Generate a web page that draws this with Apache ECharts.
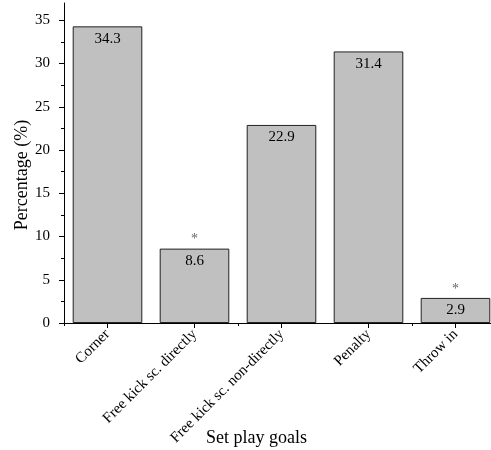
<!DOCTYPE html>
<html><head><meta charset="utf-8">
<script src="https://cdn.jsdelivr.net/npm/echarts@6/dist/echarts.min.js"></script>
<style>html,body{margin:0;padding:0;background:#fff}#c{width:491px;height:450px}</style>
</head><body><div id="c"></div>
<script>
const categories = ['Corner', 'Free kick sc. directly', 'Free kick sc. non-directly', 'Penalty', 'Throw in'];
const values = [34.3, 8.6, 22.9, 31.4, 2.9];
const significant = [false, true, false, false, true];
const yMajorTicks = [0, 5, 10, 15, 20, 25, 30, 35];
const yMinorTicks = [2.5, 7.5, 12.5, 17.5, 22.5, 27.5, 32.5];

const FONT = 'Liberation Serif';
const chart = echarts.init(document.getElementById('c'), null, {renderer: 'canvas'});
chart.setOption({
  animation: false,
  grid: {left: 64, top: 3, bottom: 127, width: 435, containLabel: false, outerBoundsMode: 'none'},
  xAxis: [{
    type: 'category', data: categories, position: 'bottom',
    name: 'Set play goals', nameLocation: 'middle', nameGap: 106, nameMoveOverlap: false,
    nameTextStyle: {fontFamily: FONT, fontSize: 18, color: '#000', padding: [0, 50, 0, 0]},
    axisLine: {show: true, lineStyle: {color: '#000', width: 1}},
    axisTick: {show: true, alignWithLabel: true, length: 5, lineStyle: {color: '#000'}},
    axisLabel: {rotate: 45, fontFamily: FONT, fontSize: 15, color: '#000', margin: 9, interval: 0}
  }, {
    type: 'category', data: categories, position: 'bottom',
    axisLine: {show: false}, axisLabel: {show: false},
    axisTick: {show: true, alignWithLabel: false, length: 3, lineStyle: {color: '#000'}}
  }],
  yAxis: [{
    type: 'value', min: 0, max: 37, interval: 5,
    name: 'Percentage (%)', nameLocation: 'middle', nameGap: 33, nameMoveOverlap: false,
    nameTextStyle: {fontFamily: FONT, fontSize: 18, color: '#000', padding: [0, 24, 0, 0]},
    axisLine: {show: true, lineStyle: {color: '#000', width: 1}},
    axisTick: {show: true, length: 5, customValues: yMajorTicks, lineStyle: {color: '#000'}},
    axisLabel: {customValues: yMajorTicks, fontFamily: FONT, fontSize: 15, color: '#000', margin: 14},
    splitLine: {show: false}
  }, {
    type: 'value', min: 0, max: 37, position: 'left',
    axisLine: {show: false}, axisLabel: {show: false}, splitLine: {show: false},
    axisTick: {show: true, length: 3, customValues: yMinorTicks, lineStyle: {color: '#000'}}
  }],
  series: [{
    type: 'bar', data: values, barCategoryGap: '20%', xAxisIndex: 0, yAxisIndex: 0,
    itemStyle: {color: '#c0c0c0', borderColor: '#222', borderWidth: 1},
    label: {show: true, position: 'insideTop', distance: 5, fontFamily: FONT, fontSize: 15, color: '#000'},
    z: 3
  }, {
    type: 'bar', data: values, barGap: '-100%', xAxisIndex: 0, yAxisIndex: 0,
    itemStyle: {color: 'rgba(0,0,0,0)', borderWidth: 0},
    label: {show: true, position: 'top', distance: 2, fontFamily: FONT, fontSize: 14, color: '#666',
      formatter: p => significant[p.dataIndex] ? '*' : ''},
    z: 1, silent: true
  }]
});
</script></body></html>
